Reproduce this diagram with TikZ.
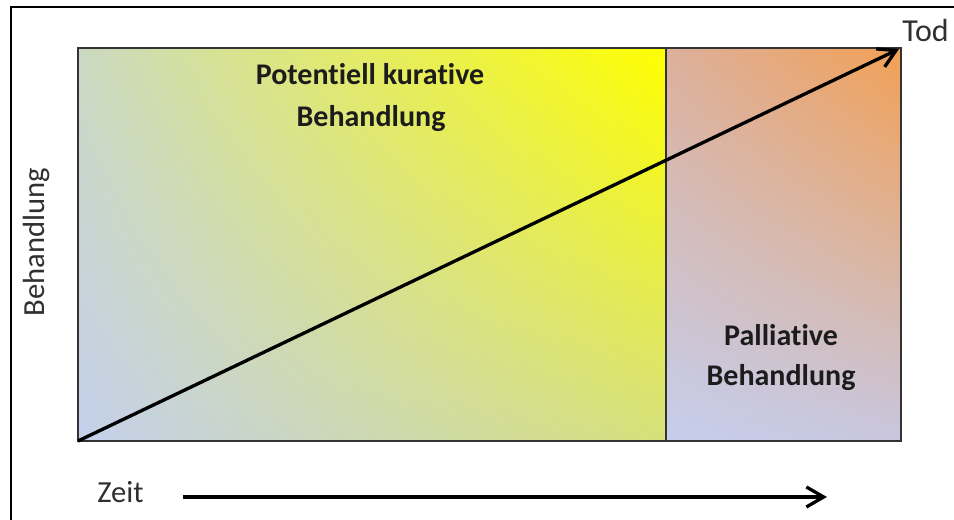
\documentclass[tikz,border=0pt]{standalone}
\usepackage{fontspec}
\setmainfont[Ligatures=NoCommon]{Carlito}
\usetikzlibrary{arrows.meta,shadings}
\definecolor{cLL}{HTML}{C4D0EC}
\definecolor{cUL}{HTML}{CAD9C2}
\definecolor{cUR}{HTML}{FFFF00}
\definecolor{cLR}{HTML}{D6E07A}
\definecolor{pUL}{HTML}{DCB09C}
\definecolor{pUR}{HTML}{F2A055}
\definecolor{pLL}{HTML}{C6CEEC}
\definecolor{pLR}{HTML}{C8C6DE}
\definecolor{txtdark}{HTML}{1C1C1C}
\definecolor{txtgrey}{HTML}{303030}
\definecolor{frameline}{HTML}{333333}
\tikzset{
  boldlabel/.style={font=\fontsize{22.5}{24}\selectfont\bfseries, text=txtdark, anchor=base, inner sep=0pt},
  axislabel/.style={font=\fontsize{23}{25}\selectfont, text=txtgrey, inner sep=0pt},
  bigarrow/.style={line width=2.5pt, -{Straight Barb[length=13pt,width=15pt]}},
  panelline/.style={draw=frameline, line width=1.5pt}
}
\begin{document}
\begin{tikzpicture}[x=0.75pt,y=-0.75pt]
\useasboundingbox (0,0) rectangle (954,520);
\begin{scope}
\clip (0,0) rectangle (954,520);
\draw[line width=1.2pt] (11,540) -- (11,7) -- (970,7);
\end{scope}
\coordinate (ll) at (78,441);
\coordinate (ul) at (78,48);
\coordinate (mt) at (666,48);
\coordinate (mb) at (666,441);
\coordinate (ur) at (901,48);
\coordinate (lr) at (901,441);
\coordinate (tip) at (899,49);
\shade[lower left=cLL, upper left=cUL, upper right=cUR, lower right=cLR] (ul) rectangle (mb);
\shade[lower left=pLL, upper left=pUL, upper right=pUR, lower right=pLR] (mt) rectangle (lr);
\draw[panelline] (ul) rectangle (lr);
\draw[panelline] (mt) -- (mb);
\draw[bigarrow] (ll) -- (tip);
\node[boldlabel] (cur1) at (370,85) {Potentiell kurative};
\node[boldlabel] (cur2) at (371,127) {Behandlung};
\node[boldlabel] (pal1) at (781,346) {Palliative};
\node[boldlabel] (pal2) at (781,386) {Behandlung};
\node[axislabel, font=\fontsize{24}{26}\selectfont, anchor=base west] (tod) at (902,42) {Tod};
\node[axislabel, anchor=base west] (zeit) at (97,503) {Zeit};
\node[axislabel, rotate=90, anchor=base] (beh) at (44,242) {Behandlung};
\coordinate (zs) at (183,497);
\coordinate (ze) at (827,497);
\draw[bigarrow] (zs) -- (ze);
\end{tikzpicture}
\end{document}
